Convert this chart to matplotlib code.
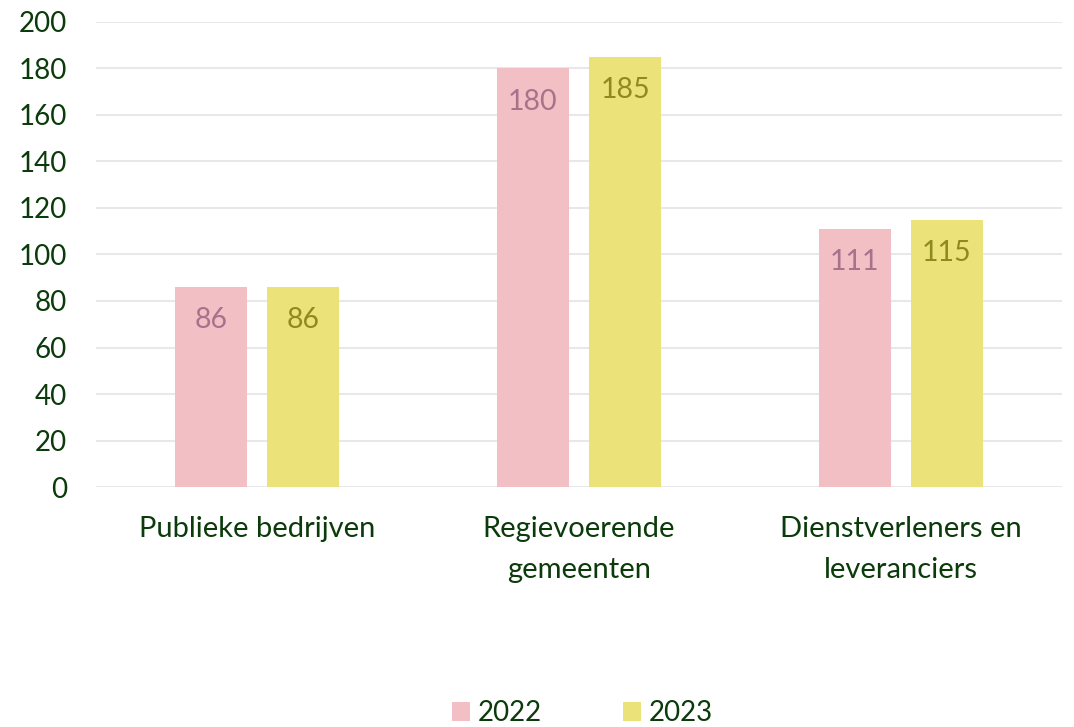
import numpy as np
import matplotlib.pyplot as plt

plt.rcParams['font.family'] = ['Lato', 'DejaVu Sans']

categories = ['Publieke bedrijven', 'Regievoerende\ngemeenten', 'Dienstverleners en\nleveranciers']
values_2022 = [86, 180, 111]
values_2023 = [86, 185, 115]
series = ['2022', '2023']

text_col = '#0b3b0b'
pink = '#f2bfc4'
yellow = '#ebe37a'

fig = plt.figure(figsize=(10.74, 7.27), dpi=100)
ax = fig.add_axes([0.0894, 0.330, 0.8994, 0.640])

ind = np.arange(len(categories))
width = 0.224
off = 0.143

b1 = ax.bar(ind - off, values_2022, width, color=pink, label=series[0], zorder=2)
b2 = ax.bar(ind + off, values_2023, width, color=yellow, label=series[1], zorder=2)

for bars, col in ((b1, '#a8728c'), (b2, '#8f8a1f')):
    for r in bars:
        ax.annotate(f'{r.get_height():.0f}', (r.get_x() + r.get_width() / 2, r.get_height()),
                    xytext=(0, -24), textcoords='offset points', ha='center', va='center',
                    fontsize=20.5, color=col, zorder=3)

ax.set_xlim(-0.5, 2.5)
ax.set_ylim(0, 200)
ax.set_yticks(np.arange(0, 201, 20))
ax.set_xticks(ind)
ax.set_xticklabels(categories, linespacing=1.7)
ax.tick_params(axis='y', length=0, pad=21, labelsize=20, labelcolor=text_col)
ax.tick_params(axis='x', length=0, pad=21, labelsize=21, labelcolor=text_col)
ax.grid(axis='y', color='#e8e8e8', linewidth=1.5, zorder=0)
for s in ax.spines.values():
    s.set_visible(False)

fig.legend(handles=[b1, b2], labels=series, loc='center', bbox_to_anchor=(0.5424, 0.019),
           ncol=2, frameon=False, fontsize=20, labelcolor=text_col,
           handlelength=0.65, handleheight=0.65, handletextpad=0.3, columnspacing=2.9)

fig.savefig('out.png', dpi=100)
